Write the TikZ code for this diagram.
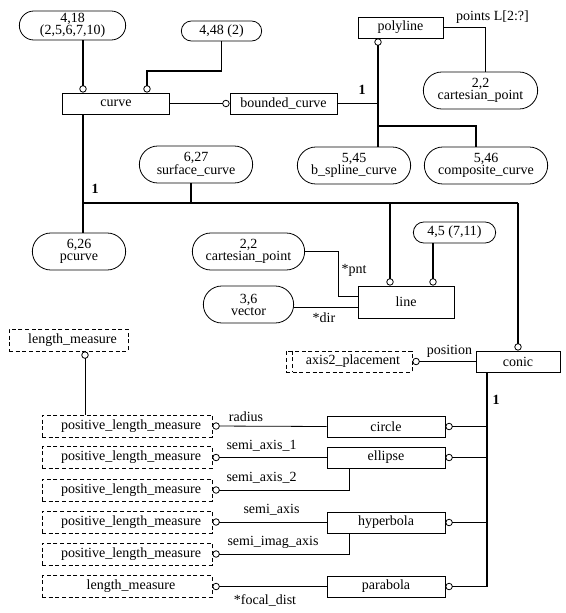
\documentclass[tikz,border=0pt]{standalone}
\usepackage{fontspec}
\setmainfont{Liberation Serif}
\usetikzlibrary{arrows.meta,shapes.misc}

\tikzset{
  sz/.style 2 args={minimum width=#1*0.75pt, minimum height=#2*0.75pt},
  ent/.style={draw, rectangle, line width=0.6pt, inner sep=1pt},
  ref/.style={draw, rounded rectangle, line width=0.6pt, inner sep=1pt, align=center},
  dtype/.style={draw, rectangle, line width=0.6pt, dash pattern=on 3pt off 2pt, inner sep=1pt,
    execute at begin node=\hspace*{6pt}},
  sub/.style={line width=1.2pt},
  attr/.style={line width=0.6pt},
  oend/.style={-{Circle[open,length=5.5pt,width=5.5pt,line width=0.6pt]}},
  ostart/.style={{Circle[open,length=5.5pt,width=5.5pt,line width=0.6pt]}-},
  lbl/.style={inner sep=0pt},
  one/.style={inner sep=0pt, font=\fontsize{10.5}{9}\selectfont\bfseries}
}

\begin{document}
\begin{tikzpicture}[x=0.75pt, y=-0.75pt, font=\fontsize{10.5}{9}\selectfont]
    \useasboundingbox (0,0) rectangle (566,613);

    % upper part
    \node[ref, sz={109}{29}] (ref418) at (72.5,25.5) {4,18\\(2,5,6,7,10)};
    \node[ref, sz={83}{20}] (ref448) at (221.5,31) {4,48 (2)};
    \node[ent, sz={107}{21}] (curve) at (116,103.5) {curve};
    \node[ent, sz={107}{21}] (bcurve) at (283.5,103.5) {bounded\_curve};
    \node[ent, sz={85}{21}] (polyline) at (400.5,27.5) {polyline};
    \node[ref, sz={117}{37}] (ptref) at (480.5,90.5) {2,2\\cartesian\_point};
    \node[ref, sz={116}{37}] (bspline) at (354,165.5) {5,45\\b\_spline\_curve};
    \node[ref, sz={126}{37}] (composite) at (486,165.5) {5,46\\composite\_curve};
    \node[ref, sz={116}{37}] (scurve) at (196,164.5) {6,27\\surface\_curve};
    \node[ref, sz={96}{37}] (pcurve) at (79,251.5) {6,26\\pcurve};
    \node[ref, sz={115}{37}] (pntref) at (248.5,251.5) {2,2\\cartesian\_point};
    \node[ref, sz={93}{37}] (vecref) at (248.5,304.5) {3,6\\vector};
    \node[ref, sz={85}{21}] (ref45) at (454.5,232.5) {4,5 (7,11)};
    \node[ent, sz={96}{32}] (line) at (406,302) {line};

    % conics
    \node[dtype, sz={119}{22}] (lm1) at (68.5,340) {length\_measure};
    \node[dtype, sz={126}{21}] (axis2) at (349,361.5) {axis2\_placement};
    \draw[line width=0.6pt, dash pattern=on 3pt off 2pt]
        ([xshift=5.25pt]axis2.north west) -- ([xshift=5.25pt]axis2.south west);
    \node[ent, sz={84}{21}] (conic) at (518,361.5) {conic};
    \node[dtype, sz={170}{22}] (plm1) at (127,426) {positive\_length\_measure};
    \node[dtype, sz={170}{22}] (plm2) at (127,457.5) {positive\_length\_measure};
    \node[dtype, sz={170}{22}] (plm3) at (127,490) {positive\_length\_measure};
    \node[dtype, sz={170}{22}] (plm4) at (127,522) {positive\_length\_measure};
    \node[dtype, sz={170}{22}] (plm5) at (127,554) {positive\_length\_measure};
    \node[dtype, sz={170}{22}] (lm2) at (127,586.5) {length\_measure};
    \node[ent, sz={118}{21}] (circ) at (386,426.5) {circle};
    \node[ent, sz={118}{21}] (ellipse) at (386,457.5) {ellipse};
    \node[ent, sz={118}{21}] (hyperbola) at (386,522.5) {hyperbola};
    \node[ent, sz={118}{21}] (parabola) at (386,586.5) {parabola};

    % curve and its supertypes
    \draw[sub, oend] (ref418.south -| 83,0) -- (curve.north -| 83,0);
    \draw[sub, oend] (ref448.south) |- (147,71) -- (curve.north -| 147,0);
    \draw[sub, oend] (curve.east) -- (bcurve.west);

    % bounded_curve subtypes
    \draw[sub] (bcurve.east) -- (bcurve.east -| 378,0);
    \draw[sub, ostart] (polyline.south -| 378,0) -- (bspline.north -| 378,0);
    \draw[sub] (378,126) -| (composite.north -| 476,0);
    \node[one] at (362,90) {1};
    \draw[attr] (polyline.east) -| (ptref.north -| 485,0);
    \node[lbl] at (492.5,17) {points L[2:?]};

    % curve subtypes
    \draw[sub] (curve.south -| 83,0) -- (pcurve.north -| 83,0);
    \draw[sub] (83,203) -- (518,203);
    \draw[sub] (scurve.south -| 191,0) -- (191,203);
    \draw[sub, oend] (390,203) -- (line.north -| 390,0);
    \draw[sub, oend] (518,203) -- (conic.north);
    \node[one] at (95,189) {1};

    % line
    \draw[sub, oend] (ref45.south -| 433,0) -- (line.north -| 433,0);
    \draw[attr] (pntref.east) -| (338,296) -- (line.west |- 0,296);
    \node[lbl] at (354,270) {*pnt};
    \draw[attr] (vecref.east |- 0,307) -- (line.west |- 0,307);
    \node[lbl] at (324,318) {*dir};

    % conic
    \draw[attr, ostart] (lm1.south -| 85,0) -- (plm1.north -| 85,0);
    \draw[attr, ostart] (axis2.east) -- (conic.west);
    \node[lbl] at (449.5,351) {position};
    \draw[sub] (conic.south -| 487,0) -- (487,586.5);
    \node[one] at (496,400) {1};
    \foreach \n in {circ,ellipse,hyperbola,parabola}
        \draw[sub, ostart] (\n.east) -- (\n.east -| 487,0);

    % attributes of the conics
    \draw[attr, ostart] (plm1.east) -- (circ.west);
    \node[lbl] at (246,417) {radius};
    \draw[attr, ostart] (plm2.east) -- (ellipse.west);
    \node[lbl] at (261.5,446) {semi\_axis\_1};
    \draw[attr, ostart] (plm3.east) -| (ellipse.south -| 349,0);
    \node[lbl] at (261.5,478) {semi\_axis\_2};
    \draw[attr, ostart] (plm4.east) -- (hyperbola.west |- plm4.east);
    \node[lbl] at (271.5,510) {semi\_axis};
    \draw[attr, ostart] (plm5.east) -| (hyperbola.south -| 349,0);
    \node[lbl] at (273,542) {semi\_imag\_axis};
    \draw[attr, ostart] (lm2.east) -- (parabola.west);
    \node[lbl] at (265,600) {*focal\_dist};
\end{tikzpicture}
\end{document}
